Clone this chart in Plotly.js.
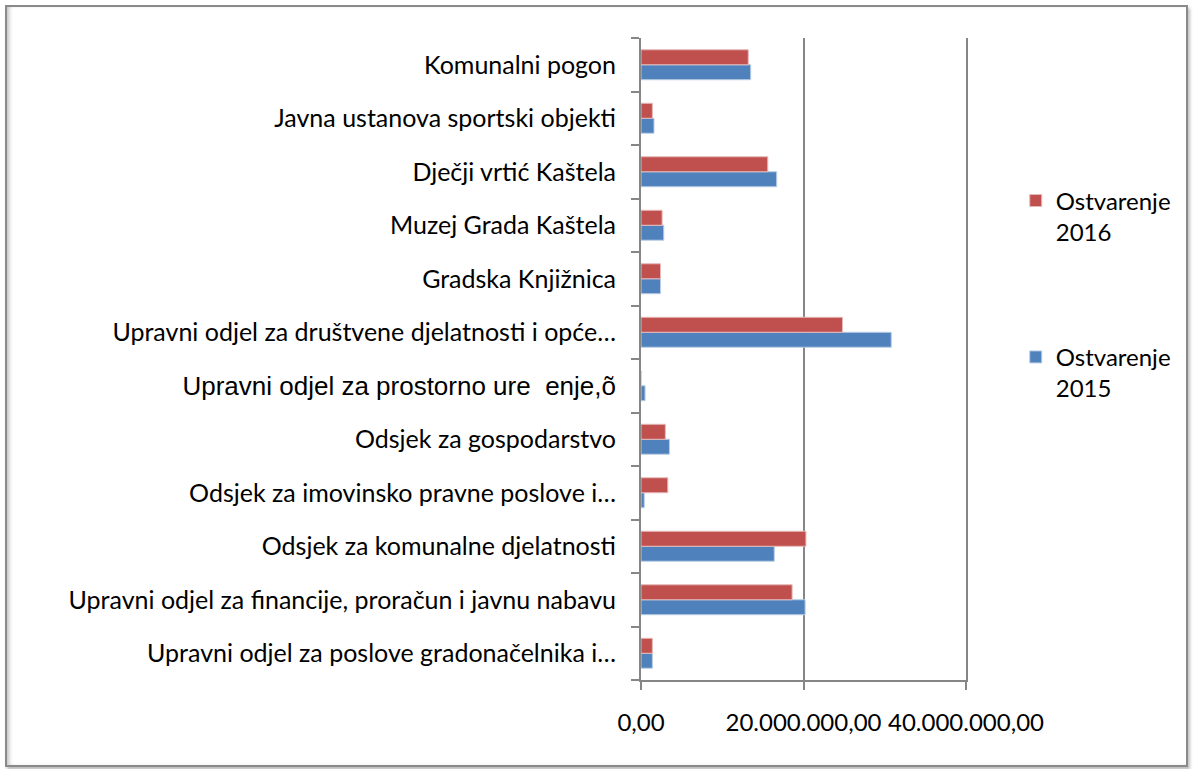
<!DOCTYPE html>
<html>
<head>
<meta charset="utf-8">
<script src="https://cdn.plot.ly/plotly-3.0.1.min.js"></script>
<style>
  html, body { margin: 0; padding: 0; background: #ffffff; }
  #wrap { position: relative; width: 1195px; height: 769px; overflow: hidden; }
  #chart { position: absolute; left: 0; top: 0; width: 1195px; height: 769px; }
  #frame {
    position: absolute; left: 5px; top: 5px; width: 1179px; height: 758px;
    border: 2px solid #8a8a8a; pointer-events: none;
    box-shadow: inset 4px 0 4px -2px rgba(0,0,0,0.25), 2px 3px 3px rgba(0,0,0,0.25);
  }
</style>
</head>
<body>
<div id="wrap">
  <div id="chart"></div>
  <div id="frame"></div>
</div>
<script>
// Categories listed bottom to top
const categories = [
  "Upravni odjel za poslove gradonačelnika i…",
  "Upravni odjel za financije, proračun i javnu nabavu",
  "Odsjek za komunalne djelatnosti",
  "Odsjek za imovinsko pravne poslove i…",
  "Odsjek za gospodarstvo",
  "<span style=\"font-family:Liberation Sans;font-size:26px\">Upravni odjel za prostorno ure \u00a0enje,õ</span>",
  "Upravni odjel za društvene djelatnosti i opće…",
  "Gradska Knjižnica",
  "Muzej Grada Kaštela",
  "Dječji vrtić Kaštela",
  "Javna ustanova sportski objekti",
  "Komunalni pogon"
];
const ostvarenje2015 = [1400000, 20200000, 16400000, 400000, 3500000, 500000, 30800000, 2400000, 2800000, 16700000, 1600000, 13500000];
const ostvarenje2016 = [1400000, 18600000, 20300000, 3300000, 3000000, 0, 24800000, 2400000, 2600000, 15600000, 1400000, 13200000];
const seriesNames = ["Ostvarenje<br>2015", "Ostvarenje<br>2016"];
const xTicks = [0, 20000000, 40000000];

const font = "Lato, 'Open Sans', sans-serif";
const gridColor = "#868686";

const traces = [
  {
    type: "bar", orientation: "h", name: seriesNames[0],
    y: categories, x: ostvarenje2015, legendgroup: "a", legendrank: 2,
    marker: { color: "#4F81BD", line: { color: "#b9cde5", width: 1 } },
    hoverinfo: "x+y"
  },
  {
    type: "bar", orientation: "h", name: seriesNames[1],
    y: categories, x: ostvarenje2016, legendgroup: "b", legendrank: 1,
    marker: { color: "#C0504D", line: { color: "#e6b9b8", width: 1 } },
    hoverinfo: "x+y"
  }
];

const layout = {
  width: 1195, height: 769,
  paper_bgcolor: "#ffffff", plot_bgcolor: "#ffffff",
  margin: { l: 641, r: 229, t: 38, b: 89, pad: 0 },
  barmode: "group", bargap: 0.44, bargroupgap: 0,
  separators: ",.",
  font: { family: font, size: 25, color: "#000000" },
  showlegend: true,
  legend: {
    xref: "container", yref: "container",
    x: 0.850, y: 0.768, xanchor: "left", yanchor: "top",
    traceorder: "grouped", tracegroupgap: 91, valign: "top",
    font: { family: font, size: 24, color: "#000000" },
    itemwidth: 30, bgcolor: "rgba(0,0,0,0)"
  },
  xaxis: {
    range: [0, 40000000], tickvals: xTicks, tickformat: ",.2f",
    showgrid: true, gridcolor: gridColor, gridwidth: 2,
    zeroline: false, showline: true, linecolor: gridColor, linewidth: 2,
    ticks: "outside", ticklen: 8, tickcolor: gridColor, tickwidth: 2,
    ticklabelstandoff: 12,
    tickfont: { family: font, size: 24, color: "#000000" },
    fixedrange: true
  },
  yaxis: {
    type: "category", categoryorder: "array", categoryarray: categories,
    showgrid: false, zeroline: false, showline: true, mirror: true,
    linecolor: gridColor, linewidth: 2,
    ticks: "outside", ticklen: 8, tickcolor: gridColor, tickwidth: 2,
    tickson: "boundaries", ticklabelstandoff: 18,
    tickfont: { family: font, size: 25, color: "#000000" },
    automargin: false, fixedrange: true
  }
};

Plotly.newPlot("chart", traces, layout, { displayModeBar: false, staticPlot: true });
</script>
</body>
</html>
